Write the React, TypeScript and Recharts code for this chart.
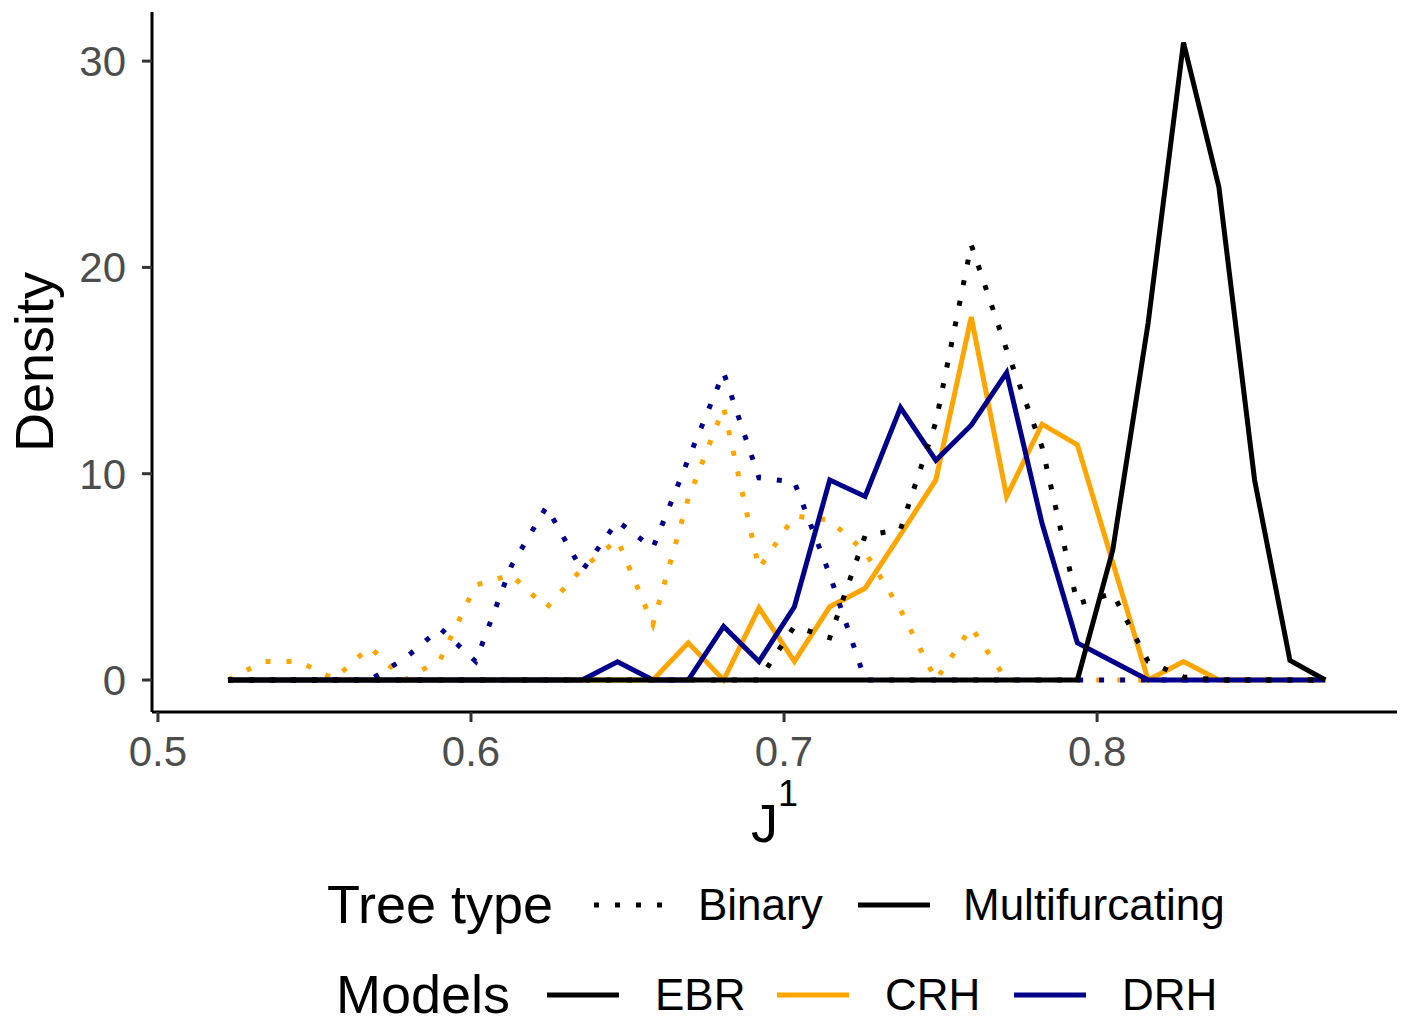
import React from 'react';
import { LineChart, Line, XAxis, YAxis } from 'recharts';

// bin midpoints of J^1 (frequency polygon)
const jValues = [
  0.5224, 0.5337, 0.545, 0.5563, 0.5676, 0.5789, 0.5902, 0.6015, 0.6128, 0.6241, 0.6355,
  0.6468, 0.6581, 0.6694, 0.6807, 0.692, 0.7033, 0.7146, 0.7259, 0.7372, 0.7485, 0.7598,
  0.7711, 0.7824, 0.7937, 0.805, 0.8163, 0.8276, 0.8389, 0.8503, 0.8616, 0.8729,
];

const crhBinary = [0, 0.9, 0.9, 0.05, 1.6, 0, 1.0, 4.6, 5.1, 3.5, 5.4, 6.8, 2.7, 8.8, 13.2, 5.4, 7.95, 7.75, 6.2, 3.4, 0, 2.55, 0, 0, 0, 0, 0, 0, 0, 0, 0, 0];
const crhMulti = [0, 0, 0, 0, 0, 0, 0, 0, 0, 0, 0, 0, 0, 1.8, 0, 3.5, 0.9, 3.55, 4.45, 7.05, 9.7, 17.6, 8.9, 12.4, 11.4, 5.7, 0, 0.9, 0, 0, 0, 0];
const drhBinary = [0, 0, 0, 0, 0, 1.05, 2.5, 0.9, 5.5, 8.4, 5.3, 7.7, 6.4, 10.7, 14.9, 9.8, 9.6, 5.1, 0, 0, 0, 0, 0, 0, 0, 0, 0, 0, 0, 0, 0, 0];
const drhMulti = [0, 0, 0, 0, 0, 0, 0, 0, 0, 0, 0, 0.88, 0, 0, 2.6, 0.9, 3.55, 9.7, 8.9, 13.2, 10.65, 12.35, 14.9, 7.6, 1.8, 0.9, 0, 0, 0, 0, 0, 0];
const ebrBinary = [0, 0, 0, 0, 0, 0, 0, 0, 0, 0, 0, 0, 0, 0, 0, 0, 2.6, 2.05, 7.0, 7.3, 12.5, 21.1, 16.0, 11.3, 3.7, 4.2, 0.9, 0.15, 0, 0, 0, 0];
const ebrMulti = [0, 0, 0, 0, 0, 0, 0, 0, 0, 0, 0, 0, 0, 0, 0, 0, 0, 0, 0, 0, 0, 0, 0, 0, 0, 6.3, 17.3, 30.9, 23.9, 9.7, 0.95, 0];

const xTicks = [0.5, 0.6, 0.7, 0.8];
const yTicks = [0, 10, 20, 30];

const COLORS = {
  EBR: '#000000',
  CRH: '#FFA500',
  DRH: '#00008B',
};

const data = jValues.map((j, i) => ({
  j,
  crhBinary: crhBinary[i],
  crhMulti: crhMulti[i],
  drhBinary: drhBinary[i],
  drhMulti: drhMulti[i],
  ebrBinary: ebrBinary[i],
  ebrMulti: ebrMulti[i],
}));

// drawing order follows the factor levels (CRH, DRH, EBR)
const series = [
  { key: 'crhBinary', color: COLORS.CRH, dotted: true },
  { key: 'crhMulti', color: COLORS.CRH, dotted: false },
  { key: 'drhBinary', color: COLORS.DRH, dotted: true },
  { key: 'drhMulti', color: COLORS.DRH, dotted: false },
  { key: 'ebrBinary', color: COLORS.EBR, dotted: true },
  { key: 'ebrMulti', color: COLORS.EBR, dotted: false },
];

const FONT = '"Liberation Sans", Arial, Helvetica, sans-serif';
const LW = 5;
const DOTS = '5 16';

const XTitle = (props: any) => {
  const vb = props.viewBox || { x: 152, y: 712, width: 1245, height: 150 };
  const cx = vb.x + vb.width / 2;
  return (
    <text x={cx} y={vb.y + 130} textAnchor="middle" fontSize={54} fill="#000" fontFamily={FONT}>
      <tspan>J</tspan>
      <tspan fontSize={36} dy={-36}>1</tspan>
    </text>
  );
};

const YTitle = (props: any) => {
  const vb = props.viewBox || { x: 0, y: 12, width: 152, height: 700 };
  const cx = 53;
  const cy = vb.y + vb.height / 2;
  return (
    <text x={cx} y={cy} transform={`rotate(-90, ${cx}, ${cy})`} textAnchor="middle" fontSize={54} fill="#000" fontFamily={FONT}>
      Density
    </text>
  );
};

const textStyle = (left: number, top: number, size: number): React.CSSProperties => ({
  position: 'absolute',
  left,
  top,
  fontSize: size,
  lineHeight: 0.8,
  transform: 'translateY(-50%)',
  whiteSpace: 'nowrap',
  color: '#000',
});

function Key({ left, top, color, dotted }: { left: number; top: number; color: string; dotted: boolean }) {
  return (
    <svg style={{ position: 'absolute', left, top: top - 6 }} width={74} height={12}>
      <line x1={0} y1={6} x2={72} y2={6} stroke={color} strokeWidth={LW} strokeDasharray={dotted ? DOTS : undefined} />
    </svg>
  );
}

export default function App() {
  return (
    <div style={{ position: 'absolute', left: 0, top: 0, width: 1411, height: 1019, background: '#fff', fontFamily: FONT, overflow: 'hidden' }}>
      <LineChart width={1411} height={1019} data={data} margin={{ top: 12, right: 14, bottom: 157, left: 0 }}>
        <XAxis
          dataKey="j"
          type="number"
          domain={[0.4981, 0.8958]}
          allowDataOverflow
          ticks={xTicks}
          tickFormatter={(v: number) => v.toFixed(1)}
          height={150}
          tickSize={10}
          tickMargin={14}
          tick={{ fill: '#4D4D4D', fontSize: 42, fontFamily: FONT }}
          tickLine={{ stroke: '#333333', strokeWidth: 3 }}
          axisLine={{ stroke: '#000', strokeWidth: 3 }}
          label={<XTitle />}
        />
        <YAxis
          type="number"
          domain={[-1.55, 32.38]}
          allowDataOverflow
          ticks={yTicks}
          width={152}
          tickSize={10}
          tickMargin={16}
          tick={{ fill: '#4D4D4D', fontSize: 42, fontFamily: FONT }}
          tickLine={{ stroke: '#333333', strokeWidth: 3 }}
          axisLine={{ stroke: '#000', strokeWidth: 3 }}
          label={<YTitle />}
        />
        {series.map((s) => (
          <Line
            key={s.key}
            type="linear"
            dataKey={s.key}
            stroke={s.color}
            strokeWidth={LW}
            strokeDasharray={s.dotted ? DOTS : undefined}
            strokeLinejoin="miter"
            dot={false}
            activeDot={false}
            isAnimationActive={false}
          />
        ))}
      </LineChart>

      {/* legend: tree type */}
      <div style={textStyle(327, 905, 54)}>Tree type</div>
      <Key left={594} top={905} color="#000" dotted />
      <div style={textStyle(698, 905, 44)}>Binary</div>
      <Key left={858} top={905} color="#000" dotted={false} />
      <div style={textStyle(963, 905, 44)}>Multifurcating</div>

      {/* legend: models */}
      <div style={textStyle(336, 995, 54)}>Models</div>
      <Key left={547} top={995} color={COLORS.EBR} dotted={false} />
      <div style={textStyle(655, 995, 44)}>EBR</div>
      <Key left={777} top={995} color={COLORS.CRH} dotted={false} />
      <div style={textStyle(885, 995, 44)}>CRH</div>
      <Key left={1014} top={995} color={COLORS.DRH} dotted={false} />
      <div style={textStyle(1122, 995, 44)}>DRH</div>
    </div>
  );
}
